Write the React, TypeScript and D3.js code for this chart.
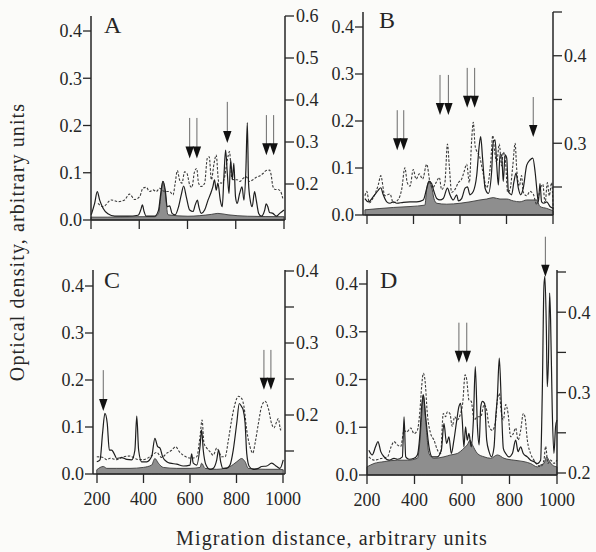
import React from 'react';
import * as d3 from 'd3';

type P = [number, number];

// ---------- tick values ----------
const leftTicks = [0, 0.1, 0.2, 0.3, 0.4];
const xTicks = [200, 400, 600, 800, 1000];
const rightTicksA = [0.2, 0.3, 0.4, 0.5, 0.6];
const rightLabelsA = [0.2, 0.3, 0.4, 0.5, 0.6];
const rightTicksB = [0.25, 0.3, 0.35, 0.4, 0.45];
const rightLabelsB = [0.3, 0.4];
const rightTicksC = [0.15, 0.2, 0.25, 0.3, 0.35, 0.4];
const rightLabelsC = [0.2, 0.3, 0.4];
const rightTicksD = [0.2, 0.25, 0.3, 0.35, 0.4, 0.45];
const rightLabelsD = [0.2, 0.3, 0.4];

// ---------- panel A ----------
const aSolid: P[] = [[201,0.011],[215,0.035],[226,0.060],[236,0.042],[250,0.025],[270,0.013],[298,0.008],[353,0.008],[395,0.010],[406,0.021],[413,0.032],[420,0.018],[429,0.008],[464,0.008],[480,0.021],[489,0.056],[498,0.082],[508,0.063],[516,0.028],[526,0.030],[536,0.014],[549,0.011],[563,0.028],[574,0.053],[584,0.072],[595,0.049],[609,0.021],[623,0.018],[632,0.032],[641,0.042],[647,0.028],[657,0.014],[671,0.021],[685,0.042],[696,0.056],[705,0.070],[712,0.085],[719,0.063],[726,0.078],[736,0.042],[744,0.028],[751,0.092],[758,0.148],[765,0.099],[772,0.056],[779,0.127],[786,0.085],[792,0.120],[799,0.049],[806,0.035],[816,0.056],[826,0.070],[834,0.042],[842,0.106],[848,0.206],[853,0.078],[860,0.042],[868,0.028],[878,0.060],[885,0.042],[895,0.014],[906,0.008],[920,0.021],[926,0.034],[933,0.028],[940,0.016],[954,0.014],[968,0.008],[982,0.014],[1000,0.021]];
const aDashed: P[] = [[229,0.154],[250,0.146],[284,0.162],[312,0.158],[339,0.162],[360,0.176],[381,0.163],[402,0.170],[415,0.190],[429,0.192],[443,0.182],[457,0.186],[471,0.182],[484,0.190],[505,0.182],[526,0.182],[540,0.174],[549,0.202],[558,0.232],[567,0.210],[577,0.202],[588,0.229],[598,0.225],[609,0.198],[618,0.192],[629,0.229],[638,0.237],[646,0.202],[657,0.194],[671,0.202],[682,0.261],[690,0.265],[699,0.210],[710,0.249],[719,0.269],[729,0.206],[740,0.202],[751,0.210],[765,0.257],[774,0.277],[784,0.213],[795,0.210],[806,0.210],[817,0.206],[830,0.213],[844,0.217],[857,0.206],[871,0.210],[885,0.216],[899,0.219],[913,0.225],[926,0.232],[940,0.233],[947,0.221],[954,0.194],[964,0.187],[975,0.187],[986,0.182],[995,0.166]];
const aGray: P[] = [[200,0.006],[270,0.006],[395,0.007],[464,0.007],[480,0.014],[489,0.049],[498,0.082],[508,0.056],[519,0.011],[602,0.008],[700,0.012],[726,0.014],[768,0.011],[850,0.008],[1000,0.007]];
const aArrowX = [609, 639, 765, 927, 957];
const aArrowTop = [0.216, 0.216, 0.25, 0.222, 0.222];
const aArrowTip = [0.130, 0.130, 0.163, 0.137, 0.137];

// ---------- panel B ----------
const bSolid: P[] = [[191,0.035],[206,0.028],[227,0.039],[249,0.053],[259,0.058],[270,0.043],[285,0.028],[299,0.025],[313,0.028],[328,0.025],[356,0.027],[385,0.028],[414,0.028],[442,0.032],[457,0.057],[467,0.072],[478,0.067],[488,0.050],[500,0.035],[514,0.032],[528,0.035],[546,0.057],[557,0.043],[571,0.032],[586,0.043],[593,0.030],[607,0.035],[622,0.057],[632,0.060],[643,0.043],[657,0.050],[672,0.085],[683,0.149],[689,0.167],[697,0.121],[708,0.057],[722,0.046],[736,0.092],[743,0.156],[751,0.160],[758,0.106],[765,0.064],[772,0.128],[779,0.128],[786,0.071],[794,0.128],[801,0.121],[808,0.050],[822,0.043],[832,0.071],[841,0.089],[851,0.057],[861,0.043],[872,0.057],[887,0.106],[901,0.117],[913,0.121],[923,0.092],[930,0.057],[937,0.028],[944,0.067],[951,0.028],[961,0.025],[973,0.028],[987,0.018],[1001,0.014]];
const bDashed: P[] = [[191,0.240],[199,0.245],[210,0.232],[227,0.238],[249,0.253],[259,0.263],[277,0.240],[299,0.242],[313,0.232],[335,0.236],[349,0.247],[363,0.272],[373,0.255],[385,0.251],[399,0.270],[411,0.259],[425,0.265],[439,0.259],[457,0.276],[471,0.255],[482,0.249],[497,0.255],[511,0.261],[521,0.247],[535,0.255],[546,0.299],[554,0.274],[564,0.244],[578,0.247],[593,0.255],[607,0.259],[617,0.267],[629,0.276],[640,0.255],[650,0.303],[657,0.324],[665,0.297],[672,0.291],[683,0.286],[700,0.265],[715,0.249],[732,0.278],[741,0.309],[749,0.291],[758,0.278],[769,0.299],[779,0.274],[786,0.290],[796,0.278],[805,0.244],[815,0.247],[827,0.274],[837,0.300],[844,0.270],[855,0.251],[865,0.263],[872,0.244],[887,0.240],[901,0.245],[915,0.242],[930,0.230],[944,0.247],[956,0.253],[966,0.232],[976,0.255],[984,0.240],[994,0.255],[1001,0.224]];
const bGray: P[] = [[191,0.011],[313,0.016],[385,0.018],[449,0.021],[457,0.057],[467,0.071],[478,0.060],[488,0.035],[500,0.025],[543,0.023],[600,0.025],[643,0.028],[686,0.032],[715,0.034],[743,0.037],[772,0.034],[801,0.034],[829,0.030],[858,0.028],[887,0.032],[930,0.032],[944,0.018],[973,0.014],[1001,0.009]];
const bArrowX = [330, 358, 514, 550, 631, 663, 915];
const bArrowTop = [0.223, 0.223, 0.298, 0.298, 0.313, 0.313, 0.251];
const bArrowTip = [0.138, 0.138, 0.213, 0.213, 0.228, 0.228, 0.166];

// ---------- panel C ----------
const cSolid: P[] = [[199,0.026],[213,0.030],[224,0.087],[234,0.129],[244,0.108],[253,0.051],[263,0.051],[273,0.044],[285,0.033],[306,0.035],[328,0.031],[349,0.030],[363,0.051],[371,0.123],[379,0.051],[392,0.026],[414,0.026],[435,0.037],[449,0.076],[461,0.058],[471,0.055],[482,0.037],[500,0.026],[514,0.023],[543,0.021],[571,0.017],[600,0.019],[607,0.043],[614,0.023],[629,0.019],[643,0.058],[650,0.094],[657,0.051],[669,0.019],[686,0.010],[700,0.012],[715,0.030],[723,0.051],[732,0.026],[741,0.012],[758,0.012],[772,0.019],[786,0.051],[801,0.108],[812,0.150],[822,0.143],[829,0.136],[837,0.108],[844,0.044],[855,0.016],[872,0.010],[894,0.012],[908,0.016],[930,0.017],[951,0.023],[973,0.016],[987,0.012],[1001,0.030]];
const cDashed: P[] = [[199,0.142],[227,0.141],[242,0.138],[256,0.140],[285,0.138],[313,0.142],[342,0.143],[356,0.141],[378,0.138],[399,0.138],[428,0.142],[457,0.148],[478,0.141],[500,0.147],[521,0.151],[538,0.156],[554,0.149],[571,0.144],[589,0.141],[607,0.140],[629,0.142],[643,0.170],[652,0.193],[660,0.161],[672,0.154],[686,0.149],[700,0.144],[715,0.154],[725,0.149],[736,0.142],[751,0.142],[765,0.165],[779,0.193],[794,0.216],[808,0.226],[822,0.223],[832,0.212],[844,0.179],[858,0.156],[870,0.147],[880,0.161],[894,0.188],[908,0.212],[923,0.219],[937,0.209],[951,0.188],[961,0.182],[973,0.191],[980,0.195],[990,0.179],[994,0.182]];
const cGray: P[] = [[199,0.009],[227,0.016],[242,0.012],[285,0.012],[342,0.012],[399,0.014],[435,0.019],[449,0.033],[464,0.023],[485,0.014],[543,0.012],[600,0.012],[643,0.014],[650,0.023],[665,0.012],[715,0.010],[772,0.016],[801,0.026],[822,0.033],[837,0.026],[851,0.012],[923,0.010],[980,0.010],[1001,0.009]];
const cArrowX = [227, 918, 948];
const cArrowTop = [0.221, 0.264, 0.264];
const cArrowTip = [0.134, 0.179, 0.179];

// ---------- panel D ----------
const dSolid: P[] = [[208,0.052],[222,0.042],[236,0.059],[246,0.070],[258,0.049],[272,0.038],[293,0.031],[314,0.035],[328,0.033],[349,0.038],[356,0.122],[363,0.038],[377,0.033],[398,0.035],[412,0.042],[423,0.087],[430,0.143],[437,0.168],[447,0.122],[461,0.059],[475,0.038],[496,0.038],[513,0.052],[524,0.108],[535,0.066],[545,0.080],[555,0.045],[566,0.073],[578,0.115],[587,0.143],[594,0.150],[601,0.115],[608,0.059],[615,0.101],[622,0.073],[629,0.087],[639,0.059],[648,0.115],[656,0.227],[665,0.101],[672,0.063],[679,0.143],[686,0.154],[695,0.150],[704,0.073],[714,0.049],[724,0.038],[735,0.059],[742,0.122],[749,0.164],[757,0.245],[766,0.143],[774,0.056],[784,0.045],[798,0.038],[812,0.045],[826,0.073],[836,0.049],[847,0.059],[858,0.045],[875,0.038],[889,0.031],[903,0.028],[917,0.024],[931,0.031],[938,0.171],[945,0.395],[949,0.416],[955,0.311],[959,0.185],[964,0.241],[969,0.381],[973,0.325],[980,0.136],[987,0.045],[994,0.101],[1000,0.115]];
const dDashed: P[] = [[208,0.220],[229,0.216],[258,0.218],[286,0.220],[302,0.233],[314,0.239],[328,0.235],[342,0.233],[356,0.253],[367,0.251],[384,0.256],[398,0.249],[412,0.253],[423,0.278],[430,0.307],[437,0.324],[444,0.316],[454,0.274],[468,0.249],[482,0.241],[496,0.229],[510,0.224],[521,0.274],[531,0.270],[538,0.276],[549,0.274],[559,0.258],[569,0.270],[580,0.266],[594,0.274],[603,0.287],[613,0.322],[620,0.316],[629,0.291],[639,0.289],[651,0.266],[665,0.270],[679,0.270],[693,0.285],[704,0.278],[714,0.258],[728,0.253],[742,0.266],[749,0.291],[757,0.299],[766,0.274],[774,0.266],[784,0.285],[794,0.274],[805,0.245],[816,0.249],[826,0.256],[836,0.241],[847,0.253],[858,0.274],[865,0.270],[875,0.241],[889,0.224],[903,0.216],[917,0.210],[931,0.208],[945,0.216],[952,0.233],[962,0.212],[973,0.216],[987,0.212],[1000,0.216]];
const dGray: P[] = [[200,0.017],[229,0.024],[272,0.028],[328,0.031],[370,0.031],[412,0.035],[423,0.073],[430,0.122],[437,0.168],[447,0.115],[461,0.045],[482,0.035],[524,0.038],[552,0.042],[580,0.045],[608,0.056],[622,0.063],[634,0.073],[644,0.063],[665,0.045],[693,0.038],[721,0.035],[749,0.042],[777,0.035],[819,0.031],[861,0.028],[889,0.024],[917,0.017],[931,0.021],[945,0.024],[956,0.038],[966,0.031],[980,0.021],[1000,0.017]];
const dArrowX = [587, 620, 951];
const dArrowTop = [0.319, 0.319, 0.499];
const dArrowTip = [0.235, 0.235, 0.415];

// ---------- layout ----------
const panels = [
  { letter: 'A', axisX: 91, x0: 91, x1: 284, rightX: 285, yTop: 16, y0: 220, y4: 31, rDom: [0.2, 0.6], rRange: [184, 16], lx: 104, ly: 33, xLabels: false,
    solid: aSolid, dashed: aDashed, gray: aGray, rTicks: rightTicksA, rLabels: rightLabelsA, arX: aArrowX, arTop: aArrowTop, arTip: aArrowTip },
  { letter: 'B', axisX: 363, x0: 367, x1: 553, rightX: 553, yTop: 12, y0: 215, y4: 27, rDom: [0.25, 0.45], rRange: [187, 12], lx: 379, ly: 28, xLabels: false,
    solid: bSolid, dashed: bDashed, gray: bGray, rTicks: rightTicksB, rLabels: rightLabelsB, arX: bArrowX, arTop: bArrowTop, arTip: bArrowTip },
  { letter: 'C', axisX: 93, x0: 97, x1: 283, rightX: 285, yTop: 270, y0: 474, y4: 286, rDom: [0.2, 0.4], rRange: [415, 271], lx: 104, ly: 288, xLabels: true,
    solid: cSolid, dashed: cDashed, gray: cGray, rTicks: rightTicksC, rLabels: rightLabelsC, arX: cArrowX, arTop: cArrowTop, arTip: cArrowTip },
  { letter: 'D', axisX: 367, x0: 367, x1: 557, rightX: 557, yTop: 270, y0: 475, y4: 284, rDom: [0.2, 0.45], rRange: [473, 272], lx: 380, ly: 288, xLabels: true,
    solid: dSolid, dashed: dDashed, gray: dGray, rTicks: rightTicksD, rLabels: rightLabelsD, arX: dArrowX, arTop: dArrowTop, arTip: dArrowTip },
];

const FONT = "'Liberation Serif', 'Times New Roman', serif";
const INK = '#262626';

function Panel({ p }: { p: (typeof panels)[number] }) {
  const x = d3.scaleLinear().domain([200, 1000]).range([p.x0, p.x1]);
  const yL = d3.scaleLinear().domain([0, 0.4]).range([p.y0, p.y4]);
  const yR = d3.scaleLinear().domain(p.rDom).range(p.rRange);
  const area = d3.area<P>().x(d => x(d[0])).y0(p.y0).y1(d => yL(d[1])).curve(d3.curveMonotoneX);
  const lineL = d3.line<P>().x(d => x(d[0])).y(d => yL(d[1])).curve(d3.curveMonotoneX);
  const lineR = d3.line<P>().x(d => x(d[0])).y(d => yR(d[1])).curve(d3.curveMonotoneX);
  const fmt = d3.format('.1f');
  return (
    <g>
      <path d={area(p.gray) || ''} fill="#8e8e8e" stroke="#3a3a3a" strokeWidth={0.9} />
      <path d={lineR(p.dashed) || ''} fill="none" stroke="#3c3c3c" strokeWidth={1.1} strokeDasharray="2.5,1.6" />
      <path d={lineL(p.solid) || ''} fill="none" stroke="#1e1e1e" strokeWidth={1.2} />
      {/* axes */}
      <line x1={p.axisX} x2={p.axisX} y1={p.yTop} y2={p.y0} stroke={INK} strokeWidth={1.5} />
      <line x1={p.rightX} x2={p.rightX} y1={p.yTop} y2={p.y0} stroke={INK} strokeWidth={1.5} />
      <line x1={p.axisX} x2={p.rightX} y1={p.y0} y2={p.y0} stroke={INK} strokeWidth={1.5} />
      {leftTicks.map(t => (
        <g key={'l' + t}>
          <line x1={p.axisX - 8} x2={p.axisX} y1={yL(t)} y2={yL(t)} stroke={INK} strokeWidth={1.3} />
          <text x={p.axisX - 9} y={yL(t)} dy="0.35em" textAnchor="end" fontFamily={FONT} fontSize={18} fill={INK}>{fmt(t)}</text>
        </g>
      ))}
      {p.rTicks.map(t => (
        <line key={'r' + t} x1={p.rightX} x2={p.rightX + 9} y1={yR(t)} y2={yR(t)} stroke={INK} strokeWidth={1.3} />
      ))}
      {p.rLabels.map(t => (
        <text key={'rl' + t} x={p.rightX + 11} y={yR(t)} dy="0.35em" fontFamily={FONT} fontSize={18} fill={INK}>{fmt(t)}</text>
      ))}
      {xTicks.map(t => (
        <g key={'x' + t}>
          <line x1={x(t)} x2={x(t)} y1={p.y0} y2={p.y0 + 9} stroke={INK} strokeWidth={1.3} />
          {p.xLabels && (
            <text x={x(t)} y={p.y0 + 31} textAnchor="middle" fontFamily={FONT} fontSize={18} fill={INK}>{t}</text>
          )}
        </g>
      ))}
      {p.arX.map((ax, i) => {
        const cx = x(ax);
        const tip = yL(p.arTip[i]);
        const top = yL(p.arTop[i]);
        return (
          <g key={'a' + i}>
            <line x1={cx} x2={cx} y1={top} y2={tip - 10} stroke="#6a6a6a" strokeWidth={1} />
            <path d={`M${cx - 4.2},${tip - 12} L${cx + 4.2},${tip - 12} L${cx},${tip} Z`} fill="#111" />
          </g>
        );
      })}
      <text x={p.lx} y={p.ly} fontFamily={FONT} fontSize={24} fill={INK}>{p.letter}</text>
    </g>
  );
}

export default function App() {
  return (
    <svg width={596} height={552} style={{ position: 'absolute', left: 0, top: 0, background: '#fbfbf9' }}>
      <rect x={0} y={0} width={596} height={552} fill="#fbfbf9" />
      {panels.map(p => <Panel key={p.letter} p={p} />)}
      <text transform="translate(24,242) rotate(-90)" textAnchor="middle" fontFamily={FONT} fontSize={20} letterSpacing={1.1} fill={INK}>
        Optical density, arbitrary units
      </text>
      <text x={332} y={545} textAnchor="middle" fontFamily={FONT} fontSize={20} letterSpacing={1.1} fill={INK}>
        Migration distance, arbitrary units
      </text>
    </svg>
  );
}
